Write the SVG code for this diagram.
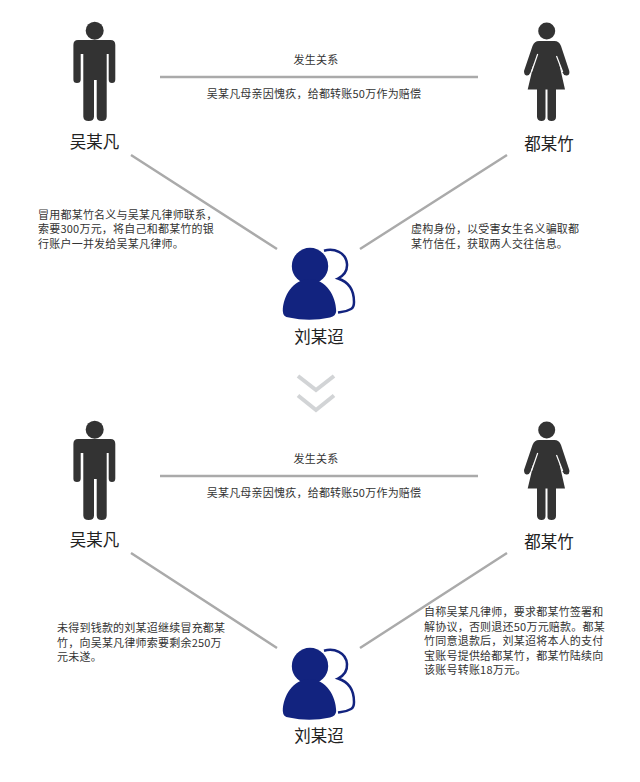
<svg xmlns="http://www.w3.org/2000/svg" width="640" height="782" viewBox="0 0 640 782">
<style>
text{font-family:"Noto Sans CJK SC","Noto Sans",sans-serif;fill:#333}
.n{font-size:16.500px;fill:#222;text-anchor:middle}
.t{font-size:11px;letter-spacing:.02em}
.c{text-anchor:middle}
.l{stroke:#aaa;stroke-width:2.5;fill:none}
.d{fill:#333}
.b{fill:#12237f}
.o{fill:none;stroke:#12237f;stroke-width:2.500}
.v{fill:none;stroke:#d2d4d6;stroke-width:4}
.s{stroke:#fff;stroke-width:1.200;fill:none}
</style>
<defs>
<g id="man"><circle class="d" cx="94.700" cy="30.700" r="9"/><path class="d" d="M78 40H110.500Q115.300 40 115.300 45V79.500Q115.300 83 112 83T108.700 79.500V54H106.700V116.500Q106.700 121 101.700 121T96.700 116.500V80H94V116.500Q94 121 88.700 121T83.300 116.500V54H80.700V79.500Q80.700 83 77 83T73.400 79.500V45Q73.400 40 78 40Z"/></g>
<g id="woman"><circle class="d" cx="546.700" cy="31" r="8.500"/><path class="d" d="M539 41H554.500Q559 41 561 46L569.300 71Q570 75 567 75.500T562.500 72.500L559 63L565 89.500H556V117Q556 121 551.500 121T547.500 117V89.500H545.500V117Q545.500 121 541.500 121T537 117V89.500H527.700L534 63L530.500 72.500Q529 76 526.500 75.500T524 71L532.500 46Q534.500 41 539 41Z"/><path class="s" d="M537.700 54L531.500 72M556.500 56L562.700 72"/></g>
<g id="crook"><circle class="b" cx="310" cy="266" r="18.200"/><path class="b" d="M309.500 279C293 279 283 296 282.800 311Q283 317 289 317.500Q309 322 330 317.500Q336 316 336.200 311C336 296 326 279 309.500 279Z"/><path class="o" d="M324 250.700C334 248 346 252 347 264C347.500 271 343 276 338 278.500C349 282 354 291 354 302C354 306 353 308 351 309C346 312 342 312 338 312.500"/></g>
</defs>
<rect width="640" height="782" fill="#fff"/>
<g id="connectors">
<path class="l" d="M160 77H478M131 155L277 249M507 155L360 249"/>
<path class="l" d="M160 476H478M131 553L277 648M507 553L360 648"/>
<path class="v" d="M298 376L316 390L334 376M298 395.500L316 410L334 395.500"/>
</g>
<g id="man-1"><use href="#man"/><text class="n" x="94.500" y="148">吴某凡</text></g>
<g id="woman-1"><use href="#woman"/><text class="n" x="549" y="150">都某竹</text></g>
<g id="crook-1"><use href="#crook"/><text class="n" x="319" y="343">刘某迢</text></g>
<g id="man-2"><use href="#man" y="399"/><text class="n" x="94.500" y="546">吴某凡</text></g>
<g id="woman-2"><use href="#woman" y="399"/><text class="n" x="549" y="548">都某竹</text></g>
<g id="crook-2"><use href="#crook" y="400"/><text class="n" x="319" y="742">刘某迢</text></g>
<g id="labels-top">
<text class="t c" x="316" y="64">发生关系</text>
<text class="t c" x="314" y="98">吴某凡母亲因愧疚，给都转账50万作为赔偿</text>
<text class="t" x="38" y="218.500">冒用都某竹名义与吴某凡律师联系，</text>
<text class="t" x="38" y="233">索要300万元，将自己和都某竹的银</text>
<text class="t" x="38" y="247.500">行账户一并发给吴某凡律师。</text>
<text class="t" x="411" y="233">虚构身份，以受害女生名义骗取都</text>
<text class="t" x="411" y="247.500">某竹信任，获取两人交往信息。</text>
</g>
<g id="labels-bottom">
<text class="t c" x="316" y="463">发生关系</text>
<text class="t c" x="314" y="497">吴某凡母亲因愧疚，给都转账50万作为赔偿</text>
<text class="t" x="57" y="632">未得到钱款的刘某迢继续冒充都某</text>
<text class="t" x="57" y="646.500">竹，向吴某凡律师索要剩余250万</text>
<text class="t" x="57" y="661">元未遂。</text>
<text class="t" x="424" y="616">自称吴某凡律师，要求都某竹签署和</text>
<text class="t" x="424" y="630.500">解协议，否则退还50万元赔款。都某</text>
<text class="t" x="424" y="645">竹同意退款后，刘某迢将本人的支付</text>
<text class="t" x="424" y="659.500">宝账号提供给都某竹，都某竹陆续向</text>
<text class="t" x="424" y="674">该账号转账18万元。</text>
</g>
</svg>
